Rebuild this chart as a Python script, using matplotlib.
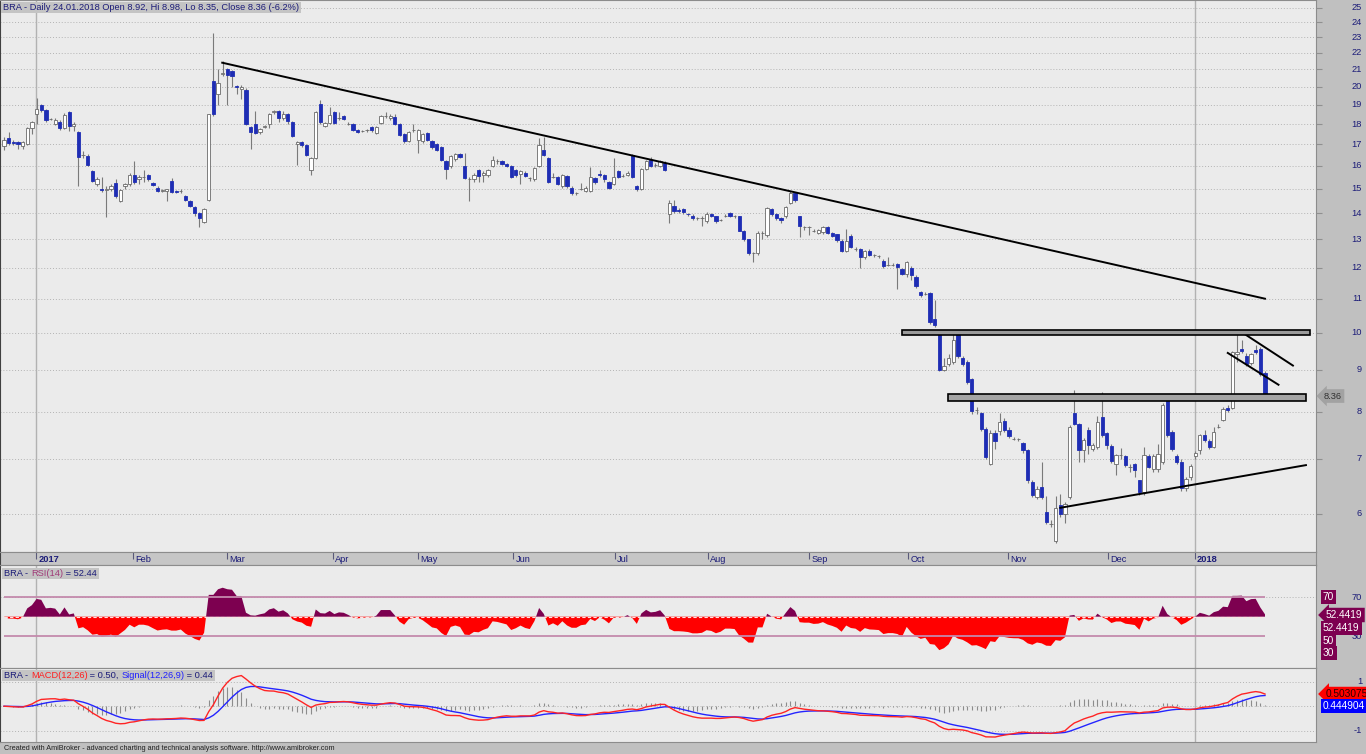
import numpy as np
import pandas as pd
import matplotlib
matplotlib.use("Agg")
import matplotlib.pyplot as plt
from matplotlib.patches import Rectangle
from matplotlib.text import Annotation
import matplotlib.transforms as mtransforms

plt.rcParams['font.family'] = ['Liberation Sans', 'DejaVu Sans']

# daily bars (Dec 2016 .. 24.01.2018)
opens = [
    16.9, 17.3, 17.1, 17.1, 16.9, 17.0, 17.8, 18.5, 19.0, 18.75,
    18.25, 18.0, 18.1, 17.8, 18.6, 17.9, 17.6, 16.5, 16.45, 15.75,
    15.2, 15.0, 14.95, 15.0, 15.25, 14.5, 15.1, 15.2, 15.6, 15.4,
    15.5, 15.6, 15.25, 15.05, 14.9, 14.9, 15.35, 14.9, 14.9, 14.7,
    14.5, 14.25, 14.0, 13.65, 14.55, 20.3, 19.6, 20.75, 21.0, 20.9,
    20.05, 19.85, 19.8, 17.85, 18.0, 17.6, 17.85, 18.0, 18.6, 18.7,
    18.3, 18.5, 18.1, 17.0, 17.1, 16.95, 15.8, 16.35, 19.05, 17.9,
    18.05, 18.6, 18.3, 18.4, 18.0, 18.0, 17.7, 17.65, 17.7, 17.85,
    17.55, 18.05, 18.4, 18.3, 18.35, 18.0, 17.5, 17.15, 17.7, 17.2,
    17.15, 17.55, 17.15, 17.0, 16.85, 16.2, 16.0, 16.3, 16.55, 16.0,
    15.4, 15.4, 15.8, 15.6, 15.6, 16.0, 16.2, 16.2, 16.1, 16.0,
    15.8, 15.65, 15.7, 15.45, 15.4, 16.0, 16.75, 16.35, 15.5, 15.5,
    15.1, 15.55, 15.05, 14.8, 15.0, 14.9, 14.9, 15.45, 15.65, 15.6,
    15.3, 15.2, 15.75, 15.55, 15.6, 16.5, 15.1, 15.0, 15.85, 16.25,
    16.05, 16.0, 16.15, 13.96, 14.27, 14.13, 14.15, 13.97, 13.9, 13.8,
    13.83, 13.68, 13.97, 13.87, 13.75, 13.9, 14.0, 13.87, 13.87, 13.33,
    13.0, 12.5, 12.5, 13.25, 13.15, 14.15, 13.97, 13.8, 13.87, 14.4,
    14.8, 13.87, 13.45, 13.45, 13.33, 13.25, 13.27, 13.45, 13.25, 13.2,
    12.95, 12.6, 13.13, 12.67, 12.67, 12.37, 12.6, 12.43, 12.4, 12.23,
    12.1, 12.1, 12.12, 11.97, 11.8, 12.0, 11.7, 11.2, 11.15, 11.17,
    10.4, 10.0, 9.0, 9.15, 9.2, 9.95, 9.31, 9.2, 8.78, 8.03,
    7.97, 7.62, 6.9, 7.53, 7.58, 7.8, 7.6, 7.41, 7.4, 7.32,
    7.17, 6.56, 6.29, 6.47, 6.03, 5.82, 5.56, 6.15, 6.0, 6.29,
    7.97, 7.72, 7.17, 7.6, 7.2, 7.25, 7.88, 7.53, 7.27, 6.9,
    7.07, 7.05, 6.84, 6.9, 6.59, 6.38, 7.05, 6.8, 6.8, 6.95,
    8.32, 7.55, 7.05, 6.95, 6.45, 6.65, 7.05, 7.17, 7.48, 7.36,
    7.25, 7.67, 7.82, 8.09, 8.09, 9.42, 9.55, 9.37, 9.17, 9.53,
    9.55, 8.92]
highs = [
    17.35, 17.6, 17.2, 17.15, 17.15, 17.85, 18.15, 19.4, 19.05, 18.8,
    18.3, 18.3, 18.2, 18.55, 18.65, 18.1, 17.65, 16.7, 16.55, 15.8,
    15.5, 15.5, 15.1, 15.2, 15.4, 15.0, 15.25, 15.7, 16.2, 15.6,
    15.8, 15.65, 15.3, 15.1, 15.0, 15.0, 15.45, 14.95, 15.0, 14.75,
    14.55, 14.3, 14.05, 14.2, 18.5, 23.3, 21.0, 21.5, 21.1, 20.95,
    20.1, 20.1, 19.9, 17.9, 18.65, 17.8, 17.95, 18.55, 18.75, 18.75,
    18.7, 18.55, 18.15, 17.15, 17.15, 17.0, 16.4, 18.65, 19.25, 18.1,
    18.9, 18.65, 18.6, 18.45, 18.1, 18.05, 17.75, 17.7, 17.75, 17.9,
    17.9, 18.45, 18.6, 18.5, 18.5, 18.05, 17.55, 17.65, 18.0, 17.75,
    17.55, 17.6, 17.2, 17.05, 16.9, 16.25, 16.5, 16.6, 16.6, 16.6,
    15.5, 15.7, 15.85, 15.75, 15.85, 16.45, 16.3, 16.25, 16.15, 16.05,
    15.85, 15.8, 15.75, 15.5, 15.95, 17.3, 17.35, 16.4, 15.7, 15.55,
    15.65, 15.6, 15.1, 14.85, 15.25, 15.1, 15.95, 15.5, 15.8, 15.65,
    15.35, 16.35, 15.8, 15.65, 15.75, 16.55, 15.15, 15.9, 16.25, 16.4,
    16.15, 16.25, 16.2, 14.55, 14.55, 14.2, 14.2, 14.02, 13.95, 13.85,
    13.9, 14.05, 14.02, 13.9, 13.78, 13.95, 14.05, 13.92, 13.9, 13.35,
    13.02, 12.55, 13.3, 13.3, 14.25, 14.2, 14.0, 13.85, 14.3, 14.9,
    14.85, 13.9, 13.5, 13.5, 13.4, 13.4, 13.5, 13.5, 13.28, 13.22,
    13.0, 13.4, 13.2, 12.72, 12.7, 12.62, 12.65, 12.48, 12.45, 12.3,
    12.37, 12.15, 12.15, 12.0, 12.25, 12.05, 11.75, 11.25, 11.2, 11.2,
    10.95, 10.05, 9.3, 9.4, 10.0, 10.0, 9.35, 9.25, 8.8, 8.1,
    8.0, 7.65, 7.6, 7.6, 7.98, 7.85, 7.65, 7.45, 7.43, 7.35,
    7.2, 6.6, 6.48, 6.95, 6.3, 5.9, 6.3, 6.35, 6.2, 7.7,
    8.5, 7.75, 7.42, 7.65, 7.32, 7.9, 8.45, 7.55, 7.3, 7.1,
    7.22, 7.08, 6.9, 6.92, 6.6, 7.25, 7.1, 7.1, 7.3, 8.2,
    8.35, 7.6, 7.1, 7.0, 6.65, 6.9, 7.15, 7.52, 7.6, 7.4,
    7.65, 7.72, 8.1, 8.15, 9.5, 9.96, 9.8, 9.45, 9.45, 9.65,
    9.6, 8.98]
lows = [
    16.75, 16.95, 16.95, 16.8, 16.8, 16.95, 17.5, 18.0, 18.6, 18.1,
    18.2, 17.95, 17.7, 17.75, 17.65, 17.65, 15.1, 16.35, 16.0, 15.3,
    15.1, 14.85, 13.85, 14.9, 14.6, 14.45, 15.0, 15.1, 15.2, 15.2,
    15.3, 15.35, 15.1, 14.85, 14.85, 14.5, 14.8, 14.8, 14.8, 14.5,
    14.25, 13.9, 13.45, 13.6, 14.5, 18.4, 19.0, 20.6, 19.0, 20.0,
    19.6, 19.3, 17.95, 16.8, 17.5, 17.5, 17.8, 17.8, 18.5, 18.1,
    18.2, 18.0, 17.35, 16.05, 16.85, 16.45, 15.6, 16.3, 18.0, 17.85,
    18.0, 18.0, 18.2, 18.2, 17.95, 17.65, 17.55, 17.6, 17.6, 17.6,
    17.5, 18.0, 18.3, 18.2, 17.95, 17.4, 17.05, 17.1, 17.6, 16.6,
    17.05, 17.15, 16.8, 16.7, 16.2, 15.4, 15.9, 16.2, 16.35, 15.4,
    14.5, 15.3, 15.3, 15.3, 15.5, 15.95, 16.1, 16.05, 15.95, 15.45,
    15.5, 15.2, 15.5, 15.35, 15.35, 15.95, 16.45, 15.25, 15.45, 15.15,
    15.05, 15.05, 14.75, 14.75, 14.95, 14.85, 14.85, 15.2, 15.5, 15.3,
    15.0, 15.15, 15.45, 15.5, 15.55, 15.45, 14.9, 14.95, 15.8, 15.95,
    15.95, 15.95, 15.75, 13.6, 14.0, 14.0, 13.98, 13.9, 13.75, 13.75,
    13.5, 13.62, 13.85, 13.62, 13.7, 13.85, 13.85, 13.82, 13.3, 12.95,
    12.45, 12.2, 12.45, 13.0, 13.1, 13.9, 13.75, 13.6, 13.8, 14.35,
    14.45, 13.1, 13.35, 13.15, 13.28, 13.2, 13.22, 13.2, 13.08, 12.92,
    12.55, 12.55, 12.68, 12.6, 12.0, 12.32, 12.4, 12.38, 12.35, 12.0,
    12.05, 12.05, 11.3, 11.75, 11.7, 11.6, 11.35, 11.05, 11.1, 10.25,
    10.15, 8.98, 8.98, 9.1, 9.15, 9.3, 9.1, 8.65, 7.95, 7.95,
    7.58, 7.0, 6.88, 7.2, 7.5, 7.55, 7.42, 7.38, 7.36, 7.12,
    6.55, 6.28, 6.25, 6.25, 5.82, 5.78, 5.52, 5.95, 5.85, 6.25,
    7.7, 6.95, 6.95, 7.1, 7.15, 7.2, 7.45, 7.2, 6.92, 6.7,
    7.0, 6.85, 6.75, 6.65, 6.33, 6.33, 6.82, 6.75, 6.75, 6.9,
    7.45, 7.15, 6.9, 6.4, 6.4, 6.6, 7.0, 7.1, 7.35, 7.2,
    7.22, 7.63, 7.8, 8.0, 8.05, 9.2, 9.45, 9.1, 9.12, 9.4,
    8.85, 8.35]
closes = [
    17.2, 17.05, 17.05, 17.0, 17.1, 17.8, 18.1, 18.8, 18.75, 18.2,
    18.25, 18.2, 17.8, 18.45, 17.9, 18.0, 16.4, 16.5, 16.05, 15.35,
    15.4, 14.95, 15.0, 15.1, 14.7, 14.95, 15.2, 15.6, 15.3, 15.5,
    15.5, 15.4, 15.15, 14.9, 14.95, 14.97, 14.85, 14.85, 14.9, 14.55,
    14.3, 14.0, 13.8, 14.15, 18.5, 18.5, 20.2, 20.8, 20.65, 20.6,
    20.0, 20.0, 18.0, 17.6, 17.55, 17.75, 17.9, 18.5, 18.7, 18.3,
    18.5, 18.15, 17.4, 17.1, 16.95, 16.5, 16.35, 18.6, 18.1, 18.05,
    18.45, 18.05, 18.3, 18.25, 18.0, 17.7, 17.6, 17.65, 17.7, 17.7,
    17.85, 18.4, 18.4, 18.4, 18.0, 17.45, 17.15, 17.6, 17.7, 17.7,
    17.5, 17.2, 16.85, 16.75, 16.25, 15.85, 16.45, 16.55, 16.4, 15.45,
    15.4, 15.6, 15.55, 15.7, 15.8, 16.25, 16.2, 16.1, 16.0, 15.5,
    15.6, 15.75, 15.55, 15.45, 15.9, 16.95, 16.5, 15.3, 15.5, 15.2,
    15.6, 15.1, 14.8, 14.8, 15.0, 15.05, 15.5, 15.3, 15.6, 15.4,
    15.05, 15.5, 15.5, 15.55, 15.7, 15.5, 15.0, 15.85, 16.2, 16.0,
    16.05, 16.2, 15.8, 14.4, 14.07, 14.07, 14.03, 13.96, 13.8, 13.8,
    13.83, 13.97, 13.9, 13.68, 13.75, 13.9, 13.9, 13.87, 13.33, 13.0,
    12.5, 12.5, 13.25, 13.25, 14.2, 13.97, 13.8, 13.75, 14.25, 14.8,
    14.52, 13.5, 13.45, 13.45, 13.33, 13.35, 13.45, 13.25, 13.13, 12.97,
    12.6, 12.95, 12.73, 12.67, 12.37, 12.57, 12.45, 12.43, 12.4, 12.06,
    12.1, 12.1, 12.03, 11.8, 12.2, 11.75, 11.4, 11.1, 11.15, 10.3,
    10.2, 9.0, 9.1, 9.3, 9.8, 9.35, 9.15, 8.7, 8.01, 8.03,
    7.62, 7.04, 7.53, 7.37, 7.77, 7.6, 7.46, 7.41, 7.4, 7.17,
    6.59, 6.32, 6.44, 6.29, 5.86, 5.82, 6.1, 6.0, 6.17, 7.67,
    7.73, 7.18, 7.39, 7.29, 7.28, 7.77, 7.48, 7.29, 6.96, 7.07,
    7.07, 6.89, 6.84, 6.78, 6.38, 7.07, 6.85, 7.05, 7.1, 8.15,
    7.5, 7.2, 6.95, 6.45, 6.62, 6.87, 7.12, 7.48, 7.38, 7.25,
    7.55, 7.67, 8.06, 8.03, 9.46, 9.46, 9.5, 9.15, 9.42, 9.46,
    8.9, 8.36]

# month labels and their bar positions
month_labels = ["2017", "Feb", "Mar", "Apr", "May", "Jun", "Jul", "Aug",
                "Sep", "Oct", "Nov", "Dec", "2018"]
month_pos = [6.9, 27.7, 47.9, 70.7, 89.0, 109.4, 131.3, 151.3, 173.0,
             194.3, 215.8, 237.3, 255.9]

# hand drawn studies (bar index, price)
down_line = ([46.9, 271.0], [21.4, 11.0])
rise_line = ([227.0, 279.8], [6.10, 6.88])
chan_upper = ([266.0, 277.0], [10.01, 9.11])
chan_lower = ([263.0, 273.9], [9.44, 8.63])
resist_band = (193.0, 280.7, 9.92, 10.085)
support_band = (202.9, 279.8, 8.24, 8.40)

price_ticks = list(range(6, 26))
title_txt = "BRA - Daily 24.01.2018 Open 8.92, Hi 8.98, Lo 8.35, Close 8.36 (-6.2%)"
last_close = "8.36"
rsi_last = "52.44"
rsi_box = "52.4419"
macd_last, sig_last = "0.50", "0.44"
macd_box, sig_box = "0.503075", "0.444904"

NAVY = '#1c1c78'
PLOT_BG = '#ebebeb'
PURPLE = '#7d0050'
FS = 6.7

o = np.array(opens); h = np.array(highs); l = np.array(lows); c = np.array(closes)
N = len(c)
x = np.arange(N)

# RSI(14), Wilder smoothing, averages seeded evenly
d = np.diff(c, prepend=c[0])
ag = al = np.mean(np.abs(d[1:15])) / 2
rsi = []
for di in d:
    ag = (ag * 13 + max(di, 0)) / 14
    al = (al * 13 + max(-di, 0)) / 14
    rsi.append(100 - 100 / (1 + ag / al))
rsi = np.array(rsi)

# MACD(12,26) and signal(9)
cs = pd.Series(c)
macd = cs.ewm(span=12, adjust=False).mean() - cs.ewm(span=26, adjust=False).mean()
signal = macd.ewm(span=9, adjust=False).mean()
hist = (macd - signal).values
macd = macd.values
signal = signal.values

W, H = 1366, 754
fig = plt.figure(figsize=(W / 100, H / 100), dpi=100, facecolor='#c0c0c0')

def box(x0, y0, x1, y1):
    return [x0 / W, 1 - y1 / H, (x1 - x0) / W, (y1 - y0) / H]

axp = fig.add_axes(box(0, 0, 1316, 552))
axd = fig.add_axes(box(0, 552, 1316, 565))
axr = fig.add_axes(box(0, 565, 1316, 668))
axm = fig.add_axes(box(0, 668, 1316, 742))

step = 1261 / (N - 1)
xl = (-4 / step, 1312 / step)
for ax in (axp, axd, axr, axm):
    ax.set_xlim(*xl)
    ax.set_facecolor(PLOT_BG)
    ax.tick_params(axis='x', bottom=False, labelbottom=False)
    for s in ax.spines.values():
        s.set_color('#8c8c8c')
        s.set_linewidth(0.8)
    ax.spines['left'].set_color('#404040')
axd.set_facecolor('#c6c6c6')

# ---- price panel
axp.set_yscale('log')
axp.set_ylim(5.385, 25.54)
axp.yaxis.set_minor_locator(matplotlib.ticker.NullLocator())
axp.set_yticks(price_ticks)
axp.tick_params(axis='y', left=False, right=True, labelleft=False, labelright=False,
                length=4, color='#909090')
axp.grid(axis='y', color='#b4b4b4', linestyle=(0, (1, 2)), linewidth=0.7)
for ax in (axp, axr, axm):
    for p in (month_pos[0], month_pos[-1]):
        ax.axvline(p, color='#b2b2b2', lw=1, zorder=0.5)

up = c >= o
axp.vlines(x, l, h, color='#7a7a7a', lw=0.8, zorder=2)
axp.bar(x[up], (c - o)[up], bottom=o[up], width=0.7, color='white',
        edgecolor='#6a6a6a', lw=0.6, zorder=3)
axp.bar(x[~up], (o - c)[~up], bottom=c[~up], width=0.7, color='#1e2db4',
        edgecolor='#1e2db4', lw=0.6, zorder=3)

for xs, ys in (down_line, rise_line, chan_upper, chan_lower):
    axp.plot(xs, ys, color='black', lw=1.4, zorder=4)
for x0, x1, y0, y1, fc in (resist_band + ('#9a9a9a',), support_band + ('#a4a4a4',)):
    axp.add_patch(Rectangle((x0, y0), x1 - x0, y1 - y0, facecolor=fc,
                            edgecolor='black', lw=1.2, zorder=4))

ty_p = mtransforms.blended_transform_factory(fig.transFigure, axp.transData)
for p in price_ticks:
    fig.text(1362 / W, p, str(p), transform=ty_p, ha='right', va='center',
             fontsize=FS, color=NAVY)
fig.text(1324 / W, float(last_close), last_close, transform=ty_p, ha='left',
         va='center', fontsize=FS, color='#303030',
         bbox=dict(boxstyle='larrow,pad=0.25', fc='#a2a2a2', ec='none'))

# ---- date band
axd.set_ylim(0, 1)
axd.set_yticks([])
for lab, p in zip(month_labels, month_pos):
    axd.vlines(p, 0.5, 1, color='#5a5a7a', lw=0.8)
    axd.text(p + 0.5, 0.42, lab, ha='left', va='center', fontsize=FS, color=NAVY,
             fontweight='bold' if lab.isdigit() else 'normal')

# ---- RSI panel
axr.set_ylim(-3, 103.4)
axr.set_yticks([])
axr.fill_between(x, rsi, 50, where=rsi >= 50, interpolate=True, color=PURPLE, lw=0, zorder=2)
axr.fill_between(x, rsi, 50, where=rsi < 50, interpolate=True, color='#ff0000', lw=0, zorder=2)
axr.axhline(70, color='#b4b4b4', ls=(0, (1, 2)), lw=0.7, zorder=1)
axr.hlines([70, 30], 0, x[-1], color='#c48aac', lw=1.3, zorder=3)
axr.hlines(50, 0, x[-1], color='#ffe0e0', lw=0.8, linestyles=(0, (3, 2)), zorder=3)

ty_r = mtransforms.blended_transform_factory(fig.transFigure, axr.transData)
for v in (70, 30):
    fig.text(1362 / W, v, str(v), transform=ty_r, ha='right', va='center',
             fontsize=FS, color=NAVY)

def fig_label(px, py, s, fc, tc, arrow=False):
    style = 'larrow,pad=0.22' if arrow else 'square,pad=0.22'
    fig.text(px / W, 1 - py / H, s, ha='left', va='center', fontsize=FS + 0.6,
             color=tc, bbox=dict(boxstyle=style, fc=fc, ec='none'), zorder=5)

fig_label(1323, 597, "70", PURPLE, 'white')
fig_label(1326, 615, rsi_box, PURPLE, 'white', arrow=True)
fig_label(1323, 628, rsi_box, PURPLE, 'white')
fig_label(1323, 640.5, "50", PURPLE, 'white')
fig_label(1323, 653, "30", PURPLE, 'white')

# ---- MACD panel
axm.set_ylim(-1.46, 1.56)
axm.set_yticks([])
for v in (1, 0, -1):
    axm.axhline(v, color='#b4b4b4', ls=(0, (1, 2)), lw=0.7, zorder=1)
axm.vlines(x, 0, hist, color='#8c8c8c', lw=0.8, zorder=2)
axm.plot(x, signal, color='#2424ff', lw=1.0, zorder=3)
axm.plot(x, macd, color='#ff2424', lw=1.0, zorder=4)
ty_m = mtransforms.blended_transform_factory(fig.transFigure, axm.transData)
for v in (1, -1):
    fig.text(1362 / W, v, str(v), transform=ty_m, ha='right', va='center',
             fontsize=FS, color=NAVY)
fig_label(1326, 694, macd_box, '#ff0000', '#300000', arrow=True)
fig_label(1323, 706, sig_box, '#0000ff', 'white')

# ---- panel titles (coloured pieces on one grey strip)
title_groups = []

def title_parts(px, py, parts):
    t = fig.text(px / W, 1 - py / H, parts[0][0], color=parts[0][1], fontsize=FS,
                 ha='left', va='center', zorder=7)
    group = [t]
    for s, col in parts[1:]:
        t = Annotation(s, xy=(1, 0.5), xycoords=t, ha='left', va='center',
                       color=col, fontsize=FS, zorder=7)
        fig.add_artist(t)
        group.append(t)
    title_groups.append(group)

title_parts(3, 7, [(title_txt, NAVY)])
title_parts(4, 573, [("BRA - ", NAVY), ("RSI(14)", '#a03a78'),
                     (" = " + rsi_last, NAVY)])
title_parts(4, 675, [("BRA - ", NAVY), ("MACD(12,26)", '#ff2020'),
                     (" = " + macd_last + ", ", NAVY),
                     ("Signal(12,26,9)", '#2020ff'), (" = " + sig_last, NAVY)])

fig.text(4 / W, 1 - 748 / H,
         "Created with AmiBroker - advanced charting and technical analysis software. http://www.amibroker.com",
         fontsize=5.2, color='#202020', ha='left', va='center')

fig.canvas.draw()
rend = fig.canvas.get_renderer()
inv = fig.transFigure.inverted()
for group in title_groups:
    bb = mtransforms.Bbox.union([t.get_window_extent(rend) for t in group])
    (x0, y0), (x1, y1) = inv.transform([[bb.x0 - 2, bb.y0 - 1], [bb.x1 + 2, bb.y1 + 1]])
    fig.add_artist(Rectangle((x0, y0), x1 - x0, y1 - y0, transform=fig.transFigure,
                             facecolor='#c4c4c4', edgecolor='none', zorder=6))

fig.savefig("out.png", dpi=100, facecolor=fig.get_facecolor())
